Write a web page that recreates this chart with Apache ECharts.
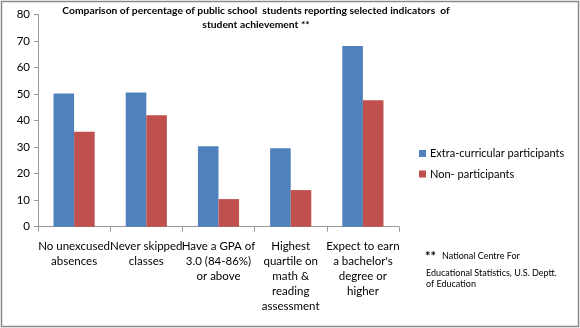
<!DOCTYPE html>
<html>
<head>
<meta charset="utf-8">
<script src="https://cdn.jsdelivr.net/npm/echarts@6/dist/echarts.min.js"></script>
<style>
  html, body { margin: 0; padding: 0; background: #fff; }
  #chart { width: 580px; height: 328px; }
</style>
</head>
<body>
<div id="chart"></div>
<script>
// Indicator categories (wrapped as printed under the axis)
const categories = [
  'No unexcused\nabsences',
  'Never skipped\nclasses',
  'Have a GPA of\n3.0 (84-86%)\nor above',
  'Highest\nquartile on\nmath &\nreading\nassessment',
  'Expect to earn\na bachelor\'s\ndegree or\nhigher'
];
const seriesNames = ['Extra-curricular participants', 'Non- participants'];
const participants = [50.2, 50.6, 30.3, 29.6, 68.1];
const nonParticipants = [35.8, 42.0, 10.4, 13.8, 47.7];
const yTicks = [0, 10, 20, 30, 40, 50, 60, 70, 80];

const FONT = 'Lato, "Open Sans", sans-serif';
const chart = echarts.init(document.getElementById('chart'), null, { renderer: 'canvas' });

chart.setOption({
  animation: false,
  backgroundColor: '#fff',
  textStyle: { fontFamily: FONT },
  title: {
    text: 'Comparison of percentage of public school  students reporting selected indicators  of\nstudent achievement **',
    left: 251,
    top: -2,
    textAlign: 'center',
    textStyle: { fontFamily: FONT, fontSize: 10.3, fontWeight: 'bold', color: '#000', lineHeight: 14.5 }
  },
  legend: {
    orient: 'vertical',
    left: 414,
    top: 143,
    itemWidth: 7,
    itemHeight: 7,
    itemGap: 9.5,
    icon: 'rect',
    textStyle: { fontFamily: FONT, fontSize: 11, color: '#000', padding: [0, 0, 0, -1] },
    data: seriesNames
  },
  grid: { left: 38, right: 181, top: 14.5, bottom: 101.3, containLabel: false },
  xAxis: {
    type: 'category',
    data: categories,
    axisLine: { lineStyle: { color: '#999', width: 1 } },
    axisTick: { show: true, alignWithLabel: false, length: 5, lineStyle: { color: '#999' } },
    axisLabel: {
      interval: 0,
      fontFamily: FONT,
      fontSize: 11.5,
      color: '#000',
      lineHeight: 15,
      margin: 12
    }
  },
  yAxis: {
    type: 'value',
    min: yTicks[0],
    max: yTicks[yTicks.length - 1],
    interval: 10,
    splitLine: { show: false },
    axisLine: { show: true, lineStyle: { color: '#999', width: 1 } },
    axisTick: { show: true, length: 4, lineStyle: { color: '#999' } },
    axisLabel: { fontFamily: FONT, fontSize: 11.5, color: '#000', margin: 8 }
  },
  series: [
    {
      name: seriesNames[0],
      type: 'bar',
      data: participants,
      barGap: '0%',
      barCategoryGap: '43%',
      itemStyle: { color: '#4F81BD' }
    },
    {
      name: seriesNames[1],
      type: 'bar',
      data: nonParticipants,
      itemStyle: { color: '#C0504D' }
    }
  ],
  graphic: [
    {
      type: 'rect',
      shape: { x: 1.5, y: 1.5, width: 577, height: 325 },
      style: { fill: 'none', stroke: '#8a8a8a', lineWidth: 1.5 },
      silent: true
    },
    {
      type: 'text',
      left: 425,
      top: 250,
      style: { text: '**', fontFamily: FONT, fontSize: 13, fontWeight: 'bold', fill: '#000' }
    },
    {
      type: 'text',
      left: 442,
      top: 252,
      style: {
        text: 'National Centre For',
        fontFamily: FONT, fontSize: 9, fill: '#000'
      }
    },
    {
      type: 'text',
      left: 426,
      top: 267,
      style: {
        text: 'Educational Statistics, U.S. Deptt.\nof Education',
        fontFamily: FONT, fontSize: 9, lineHeight: 11.5, fill: '#000'
      }
    }
  ]
});
</script>
</body>
</html>
